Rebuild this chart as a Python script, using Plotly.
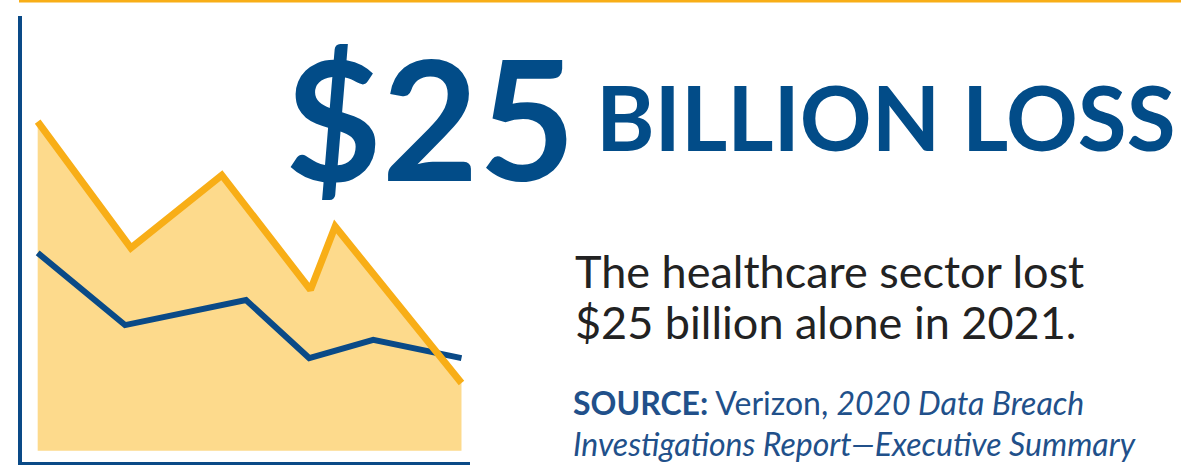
import plotly.graph_objects as go

W, H = 1191, 465

# Data (arbitrary units, 0-100 scale)
orange_x = [3.5, 24.3, 44.6, 64.4, 69.9, 98.1]
orange_y = [76.3, 48.0, 64.3, 38.6, 52.8, 17.7]
blue_x = [3.5, 23.0, 50.0, 64.1, 78.4, 98.1]
blue_y = [46.9, 30.7, 36.3, 23.3, 27.4, 23.3]
base_x = [3.5, 98.1]
base_y = [2.5, 2.5]

BLUE = "#0A4A87"
ORANGE = "#F8AE17"
FILL = "#FDDA8C"

fig = go.Figure()
fig.add_trace(go.Scatter(x=base_x, y=base_y, mode="lines", line=dict(width=0, color=FILL),
                         hoverinfo="skip", showlegend=False))
fig.add_trace(go.Scatter(x=orange_x, y=orange_y, mode="lines", fill="tonexty", fillcolor=FILL,
                         line=dict(width=0, color=FILL), hoverinfo="skip", showlegend=False))
fig.add_trace(go.Scatter(x=blue_x, y=blue_y, mode="lines", line=dict(width=6, color=BLUE),
                         showlegend=False))
fig.add_trace(go.Scatter(x=orange_x, y=orange_y, mode="lines", line=dict(width=7, color=ORANGE),
                         showlegend=False))

fig.update_xaxes(domain=[22 / W, 470 / W], range=[0, 100], showline=True, linewidth=4,
                 linecolor=BLUE, showgrid=False, zeroline=False, showticklabels=False, ticks="")
fig.update_yaxes(domain=[(H - 462) / H, (H - 16) / H], range=[0, 100], showline=True, linewidth=4,
                 linecolor=BLUE, showgrid=False, zeroline=False, showticklabels=False, ticks="")

# top border
fig.add_shape(type="line", xref="paper", yref="paper", x0=19 / W, x1=1181 / W,
              y0=(H - 1) / H, y1=(H - 1) / H, line=dict(color=ORANGE, width=3))

def px(x):
    return x / W

def py(y):
    return (H - y) / H

annos = [
    dict(text="<b>$25</b>", x=px(283), y=py(116), size=167, color="#024C88"),
    dict(text="<b>BILLION LOSS</b>", x=px(594), y=py(116), size=89, color="#024C88"),
    dict(text="The healthcare sector lost", x=px(573), y=py(271), size=45, color="#222222"),
    dict(text="$25 billion alone in 2021.", x=px(573), y=py(322), size=45, color="#222222"),
    dict(text="<b>SOURCE:</b> Verizon, <i>2020 Data Breach</i>", x=px(571), y=py(402), size=32,
         color="#21508A"),
    dict(text="<i>Investigations Report—Executive Summary</i>", x=px(571), y=py(443), size=32,
         color="#21508A"),
]
for a in annos:
    fig.add_annotation(text=a["text"], x=a["x"], y=a["y"], xref="paper", yref="paper",
                       xanchor="left", yanchor="middle", showarrow=False,
                       font=dict(family="Lato", size=a["size"], color=a["color"]))

fig.update_layout(width=W, height=H, margin=dict(l=0, r=0, t=0, b=0),
                  paper_bgcolor="white", plot_bgcolor="white")

fig.write_html("out.html")
